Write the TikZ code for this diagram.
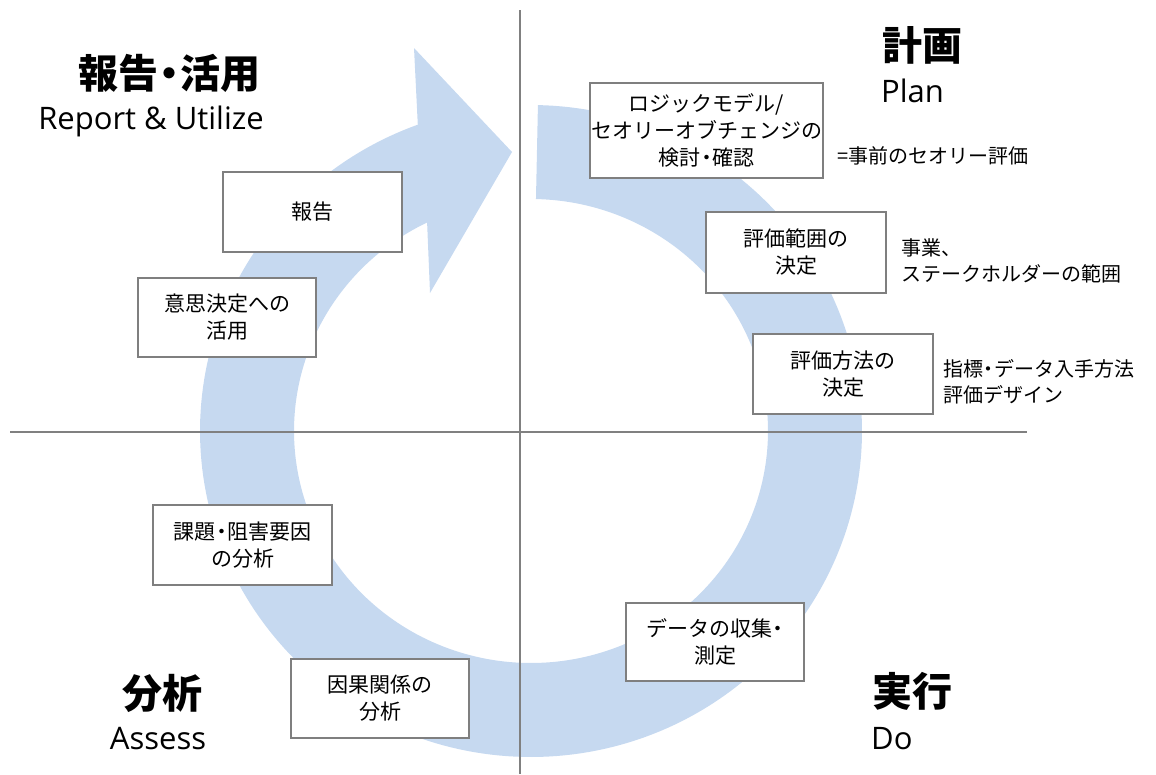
\documentclass[tikz,border=0pt]{standalone}
\usepackage{fontspec}
\setmainfont{Noto Sans CJK JP}
\newfontfamily\latinfont{Open Sans}
\definecolor{ringblue}{HTML}{C6D9F0}
\definecolor{linegray}{HTML}{808080}
\definecolor{boxgray}{HTML}{7F7F7F}
\newcommand{\nakaguro}{\kern-0.22em・\kern-0.22em}
\begin{document}
\begin{tikzpicture}[x=1pt,y=-1pt,
  axisline/.style={draw=linegray,line width=2pt},
  stepbox/.style={draw=boxgray,line width=1.8pt,fill=white,align=center,inner sep=0pt,
    font={\fontsize{21}{27}\selectfont}},
  sidetext/.style={anchor=west,align=left,inner sep=0pt,font={\fontsize{20}{26}\selectfont}},
  headjp/.style={inner sep=0pt,font={\fontsize{40}{44}\selectfont\bfseries}},
  headen/.style={inner sep=0pt,font={\fontsize{31}{36}\selectfont\latinfont}}]
\useasboundingbox (0,0) rectangle (1156,774);
% ring arrow
\fill[ringblue]
  plot[domain=88.8:-250,samples=240,variable=\t] ({531+331*cos(\t)},{431-326*sin(\t)})
  -- (414,48) -- (512,152) -- (430,293)
  -- plot[domain=-244:88.8,samples=240,variable=\t] ({531+237*cos(\t)},{431-232*sin(\t)})
  -- cycle;
% axes
\coordinate (vtop) at (520,10);
\coordinate (vbot) at (520,774);
\coordinate (hleft) at (10,432);
\coordinate (hright) at (1027,432);
\draw[axisline] (vtop) -- (vbot);
\draw[axisline] (hleft) -- (hright);
% boxes
\node[stepbox,minimum width=233pt,minimum height=95pt] (b1) at (706.5,130.5) {ロジックモデル/\\セオリーオブチェンジの\\検討\nakaguro 確認};
\node[stepbox,minimum width=180pt,minimum height=81pt] (b2) at (796,252.5) {評価範囲の\\決定};
\node[stepbox,minimum width=180pt,minimum height=80pt] (b3) at (843,374) {評価方法の\\決定};
\node[stepbox,minimum width=178pt,minimum height=78pt] (b4) at (715,642) {データの収集\nakaguro\\測定};
\node[stepbox,minimum width=178pt,minimum height=79pt] (b5) at (380,698.5) {因果関係の\\分析};
\node[stepbox,minimum width=179pt,minimum height=80pt] (b6) at (242.5,545) {課題\nakaguro 阻害要因\\の分析};
\node[stepbox,minimum width=178pt,minimum height=79pt] (b7) at (227,317.5) {意思決定への\\活用};
\node[stepbox,minimum width=179pt,minimum height=80pt] (b8) at (312.5,212) {報告};
% side notes
\node[sidetext] (n1) at (837,156) {=事前のセオリー評価};
\node[sidetext] (n2) at (901,261) {事業、\\ステークホルダーの範囲};
\node[sidetext] (n3) at (943,382) {指標\nakaguro データ入手方法\\評価デザイン};
% quadrant headings
\node[headjp,anchor=east] (h1) at (261,73) {報告\nakaguro 活用};
\node[headen,anchor=east] (e1) at (264,121) {Report \& Utilize};
\node[headjp,anchor=west] (h2) at (882,45) {計画};
\node[headen,anchor=west] (e2) at (881,91) {Plan};
\node[headjp] (h3) at (162,693) {分析};
\node[headen] (e3) at (158,739) {Assess};
\node[headjp,anchor=west] (h4) at (872,691) {実行};
\node[headen,anchor=west] (e4) at (871,739) {Do};
\end{tikzpicture}
\end{document}
